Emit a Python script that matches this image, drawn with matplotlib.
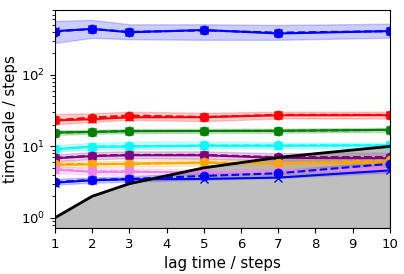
import numpy as np
import matplotlib
matplotlib.use("Agg")
import matplotlib.pyplot as plt

lags = [1, 2, 3, 5, 7, 10]
colors = ['blue', 'red', 'green', 'cyan', 'purple', 'orange', 'violet', 'blue']

# maximum-likelihood timescales (solid, 'x')
its_mle = [
    [410, 440, 395, 425, 380, 410],
    [23.0, 24.0, 25.5, 25.6, 27.2, 27.3],
    [15.6, 15.9, 16.3, 16.4, 16.5, 17.0],
    [9.1, 9.9, 9.9, 10.2, 10.2, 10.3],
    [6.8, 7.3, 7.5, 7.5, 6.9, 6.8],
    [5.5, 5.6, 5.7, 5.9, 5.7, 5.9],
    [4.7, 4.4, 4.4, 4.3, 4.4, 4.9],
    [3.1, 3.35, 3.45, 3.5, 3.65, 4.6],
]
# sample mean timescales (dashed, 'o')
its_mean = [
    [405, 440, 400, 420, 390, 410],
    [23.2, 25.3, 27.0, 25.8, 27.6, 27.6],
    [15.6, 15.9, 16.4, 16.4, 16.5, 17.0],
    [9.2, 9.9, 10.0, 10.3, 10.3, 10.4],
    [6.9, 7.4, 7.6, 7.6, 7.05, 7.1],
    [5.7, 5.65, 5.7, 5.95, 5.8, 6.4],
    [4.8, 4.45, 4.45, 4.3, 4.5, 5.1],
    [3.15, 3.4, 3.5, 3.85, 4.2, 5.7],
]
# confidence interval
its_lo = [
    [280, 330, 316, 310, 310, 332],
    [20.4, 22.0, 23.5, 22.5, 24.5, 24.5],
    [14.5, 14.9, 15.3, 15.4, 15.5, 15.9],
    [8.4, 9.0, 9.1, 9.3, 9.3, 9.4],
    [6.2, 6.6, 6.8, 6.7, 6.3, 6.2],
    [5.1, 5.1, 5.2, 5.4, 5.2, 5.5],
    [4.2, 4.0, 4.0, 3.9, 4.0, 4.4],
    [2.9, 3.1, 3.2, 3.4, 3.6, 4.3],
]
its_hi = [
    [570, 590, 511, 511, 500, 520],
    [28.2, 29.0, 30.5, 29.5, 30.5, 30.5],
    [16.8, 17.1, 17.5, 17.6, 17.7, 18.2],
    [10.4, 11.2, 11.7, 11.8, 11.4, 11.3],
    [7.7, 8.3, 8.5, 8.5, 8.0, 8.2],
    [6.2, 6.2, 6.3, 6.6, 6.4, 7.0],
    [5.3, 4.9, 4.9, 4.8, 5.0, 5.6],
    [3.5, 3.7, 3.8, 4.3, 4.6, 6.2],
]

fig = plt.figure(figsize=(4.04, 2.74), dpi=100)
ax = fig.add_axes([0.136, 0.168, 0.829, 0.7955])
x = np.array(lags, dtype=float)
for i in range(len(its_mle)):
    c = colors[i]
    ax.plot(x, its_mle[i], color=c, marker='x', linestyle='-')
    ax.plot(x, its_mean[i], color=c, marker='o', linestyle='dashed')
    ax.fill_between(x, its_lo[i], its_hi[i], alpha=0.2, color=c)

ax.set_yscale('log')
ax.set_ylim(0.72, 810)
ax.plot(x, x, linewidth=2, color='black')
ax.set_xlim(1, 10)
ax.fill_between(x, ax.get_ylim()[0] * np.ones(len(x)), x, alpha=0.5, color='grey')
ax.set_ylim(0.72, 810)
ax.set_xticks(range(1, 11))
ax.tick_params(labelsize=9.5)
ax.set_xlabel('lag time / steps', fontsize=10.8)
ax.set_ylabel('timescale / steps', fontsize=10.8, labelpad=2)
fig.savefig('out.png', dpi=100)
